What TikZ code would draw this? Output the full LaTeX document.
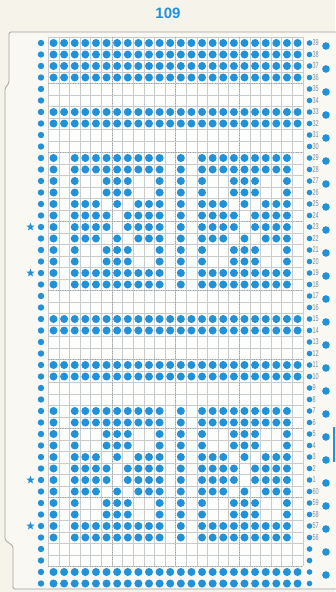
\documentclass[tikz,border=0pt]{standalone}
\usepackage{fontspec}
\setmainfont{Liberation Sans}
\usepackage{xcolor}
\usepackage{graphicx}
\usepackage{tikz}
\usetikzlibrary{shapes.geometric}

\definecolor{punch}{HTML}{2191D8}
\definecolor{paper}{HTML}{F6F3EB}
\definecolor{cardbg}{HTML}{F9F8F3}
\definecolor{gridln}{HTML}{C9CCCE}
\definecolor{dotln}{HTML}{9AA2AA}
\definecolor{rowno}{HTML}{7D8D9B}

% holes per half row (12 stitches)
\def\pf{1,2,3,4,5,6,7,8,9,10,11,12}
\def\pa{1,3,4,5,6,7,8,9,10,11}
\def\pb{1,3,6,7,8,11}
\def\pc{1,3,4,5,7,9,10,11}
\def\pd{1,3,4,5,6,8,9,10,11}

\begin{document}
\begin{tikzpicture}[x=1pt,y=-1pt,
  hole/.style={fill=punch},
  gl/.style={draw=gridln,line width=0.35pt},
  dl/.style={draw=dotln,line width=0.45pt,dotted},
  num/.style={anchor=west,inner sep=0pt,text=rowno,font=\fontsize{8.5}{8.5}\selectfont},
  starmk/.style={star,star points=5,star point ratio=2.4,fill=punch,minimum size=8.5pt,inner sep=0pt}]
\useasboundingbox (0,0) rectangle (335,592);
\fill[paper] (0,0) rectangle (335,592);
\node[font=\bfseries\fontsize{15}{15}\selectfont,text=punch] (title) at (168,13) {109};
\filldraw[fill=cardbg,draw=gridln!80!black,line width=0.8pt,rounded corners=1.5pt]
  (336,32) -- (9,32) -- (9,83) -- (5,88) -- (5,540) -- (13,546) -- (13,589) -- (336,589);
\fill[punch] (332.5,427) rectangle (335,462);
\begin{scope}[shift={(42.9,43)},x=10.61pt,y=-11.5pt]
\fill[white!70!cardbg] (0.5,-0.5) rectangle (24.5,45.5);
\foreach \c in {0,...,24} \draw[gl] (\c+0.5,-0.5) -- (\c+0.5,45.5);
\foreach \k in {0,...,46} \draw[gl] (0.5,\k-0.5) -- (24.5,\k-0.5);
\foreach \c in {6.5,12.5,18.5} \draw[dl] (\c,-0.5) -- (\c,45.5);
\foreach \k in {3.5,9.5,...,45.5} \draw[dl] (0.5,\k) -- (24.5,\k);
\foreach \k/\p in {0/\pf,1/\pf,2/\pf,3/\pf,6/\pf,7/\pf,
    10/\pa,11/\pa,12/\pb,13/\pb,14/\pc,15/\pd,16/\pd,17/\pc,18/\pb,19/\pb,20/\pa,21/\pa,
    24/\pf,25/\pf,28/\pf,29/\pf,
    32/\pa,33/\pa,34/\pb,35/\pb,36/\pc,37/\pd,38/\pd,39/\pc,40/\pb,41/\pb,42/\pa,43/\pa,
    46/\pf,47/\pf} {
  \edef\cols{\p}
  \foreach \b in {0,12} \foreach \c in \cols
    \fill[hole] (\c+\b,\k) circle[radius=4pt];
}
\foreach \k in {0,...,47} {
  \fill[hole] (-0.18,\k) circle[radius=3.2pt];
  \fill[hole] (25.13,\k) circle[radius=2.8pt];
}
\foreach \j in {0,...,23} \fill[hole] (26.68,0.26+2*\j) circle[radius=3.8pt];
\foreach \k in {0,...,43} {
  \pgfmathtruncatemacro\n{\k<39 ? 39-\k : 99-\k}
  \node[num] (n\k) at (25.4,\k) {\scalebox{0.65}[1]{\n}};
}
\foreach \k [count=\i] in {16,20,38,42} \node[starmk] (star\i) at (-1.17,\k) {};
\end{scope}
\end{tikzpicture}
\end{document}
